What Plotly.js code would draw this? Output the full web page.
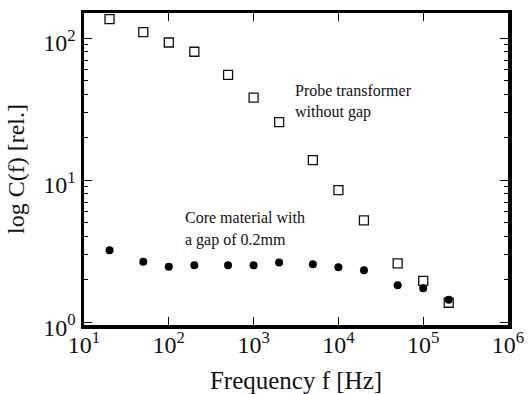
<!DOCTYPE html>
<html>
<head>
<meta charset="utf-8">
<script src="https://cdn.plot.ly/plotly-3.0.1.min.js"></script>
<style>html,body{margin:0;padding:0;background:#fff;}#chart{width:530px;height:394px;}</style>
</head>
<body>
<div id="chart"></div>
<script>
// Data
var freq = [20, 50, 100, 200, 500, 1000, 2000, 5000, 10000, 20000, 50000, 100000, 200000];
var probeNoGap = [136, 110, 93, 80, 55, 38, 25.6, 13.8, 8.5, 5.2, 2.59, 1.95, 1.37];
var coreWithGap = [3.21, 2.66, 2.45, 2.51, 2.51, 2.51, 2.63, 2.56, 2.43, 2.32, 1.82, 1.73, 1.44];

var xTickVals = [10, 100, 1000, 10000, 100000, 1000000];
var xTickText = ['10<sup>1</sup>', '10<sup>2</sup>', '10<sup>3</sup>', '10<sup>4</sup>', '10<sup>5</sup>', '10<sup>6</sup>'];
var yTickVals = [1, 10, 100];
var yTickText = ['10<sup>0</sup>', '10<sup>1</sup>', '10<sup>2</sup>'];

var probeLabel = ['Probe transformer', 'without gap'];
var coreLabel = ['Core material with', 'a gap of 0.2mm'];

var serif = 'Liberation Serif';

var traces = [
  {
    x: freq, y: probeNoGap, type: 'scatter', mode: 'markers',
    marker: {symbol: 'square-open', size: 9, color: '#111', line: {width: 1.3, color: '#111'}},
    showlegend: false
  },
  {
    x: freq, y: coreWithGap, type: 'scatter', mode: 'markers',
    marker: {symbol: 'circle', size: 8, color: '#000'},
    showlegend: false
  }
];

var axisCommon = {
  showline: true, linecolor: '#000', linewidth: 3.5, mirror: 'ticks',
  ticks: 'inside', tickcolor: '#000', tickwidth: 1,
  showgrid: false, zeroline: false,
  tickfont: {family: serif, size: 24, color: '#111'}
};

var layout = {
  width: 530, height: 394,
  margin: {l: 84, r: 22, t: 13, b: 69},
  paper_bgcolor: '#fff', plot_bgcolor: '#fff',
  font: {family: serif, color: '#111'},
  xaxis: Object.assign({}, axisCommon, {
    type: 'log', range: [1, 6], tickmode: 'array', tickvals: xTickVals, ticktext: xTickText,
    ticklen: 8, ticklabelstandoff: -4,
    title: {text: 'Frequency f [Hz]', font: {family: serif, size: 25, color: '#111'}}
  }),
  yaxis: Object.assign({}, axisCommon, {
    type: 'log', range: [-0.02, 2.176], tickmode: 'array', tickvals: yTickVals, ticktext: yTickText,
    ticklen: 8, ticklabelshift: 5,
    minor: {ticks: 'inside', ticklen: 4, dtick: 'D1', tickcolor: '#000', tickwidth: 1, showgrid: false},
    title: {text: 'log C(f) [rel.]', font: {family: serif, size: 24, color: '#111'}}
  }),
  annotations: [
    {xref: 'paper', yref: 'paper', x: 0.493, y: 0.753, xanchor: 'left', yanchor: 'middle', text: probeLabel[0], showarrow: false, font: {family: serif, size: 16, color: '#111'}},
    {xref: 'paper', yref: 'paper', x: 0.493, y: 0.683, xanchor: 'left', yanchor: 'middle', text: probeLabel[1], showarrow: false, font: {family: serif, size: 16, color: '#111'}},
    {xref: 'paper', yref: 'paper', x: 0.234, y: 0.343, xanchor: 'left', yanchor: 'middle', text: coreLabel[0], showarrow: false, font: {family: serif, size: 16, color: '#111'}},
    {xref: 'paper', yref: 'paper', x: 0.234, y: 0.272, xanchor: 'left', yanchor: 'middle', text: coreLabel[1], showarrow: false, font: {family: serif, size: 16, color: '#111'}}
  ]
};

Plotly.newPlot('chart', traces, layout, {displayModeBar: false, staticPlot: true});
</script>
</body>
</html>
